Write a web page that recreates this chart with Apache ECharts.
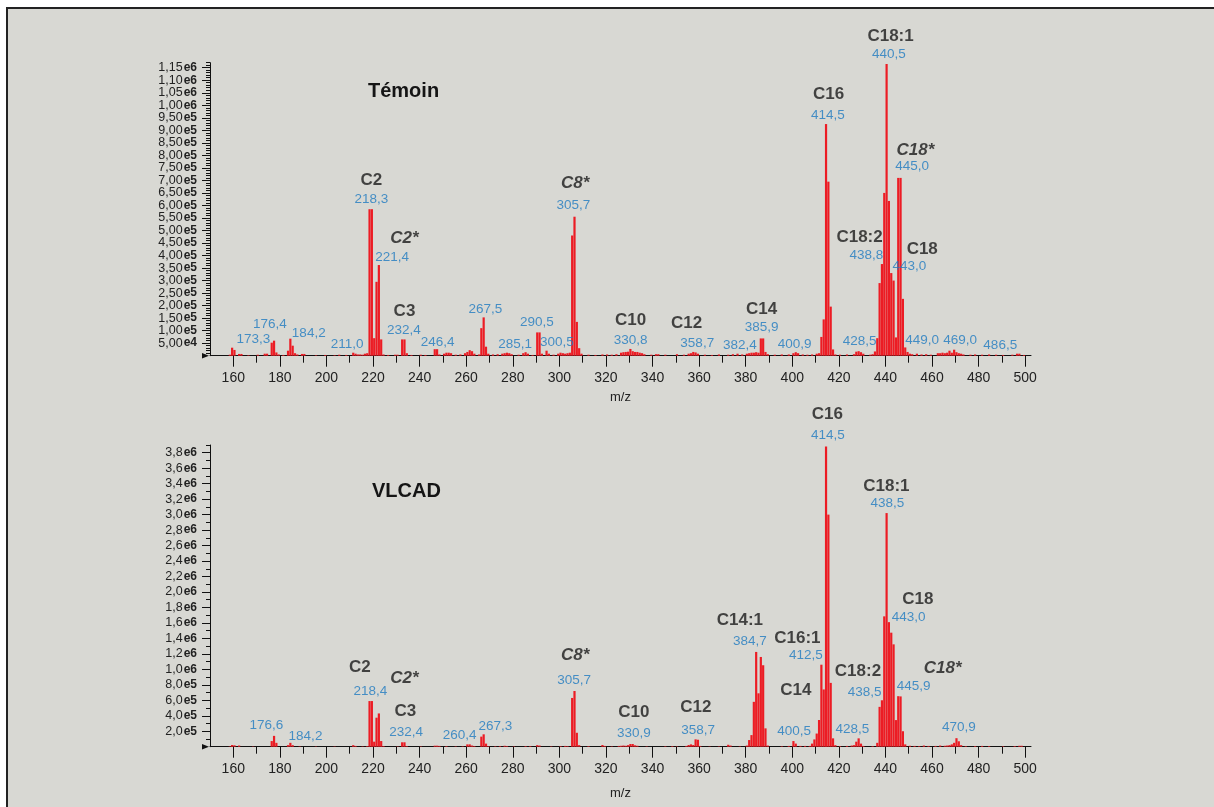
<!DOCTYPE html>
<html>
<head>
<meta charset="utf-8">
<title>Témoin / VLCAD</title>
<script src="https://cdn.jsdelivr.net/npm/echarts@6.0.0/dist/echarts.min.js"></script>
<style>
    html, body { margin: 0; padding: 0; background: #fff; overflow: hidden; }
    #frame { position: absolute; left: 6px; top: 7px; width: 1214px; height: 807px; background: #d8d8d3; border: 2px solid #222; }
    #spectra { position: absolute; left: 0; top: 0; width: 1214px; height: 807px; }
</style>
</head>
<body>
<div id="frame"></div>
<div id="spectra"></div>
<script>
// Témoin spectrum: [m/z, intensity]
var temoinPeaks = [
    [158.5, 4000], [159.5, 32000], [160.5, 23000], [162.5, 7000], [163.5, 7000], [166.5, 2000], [170.5, 4000],
    [173.5, 8000], [174.5, 8000], [176.5, 52000], [177.5, 60000], [178.5, 13000], [179.5, 5000], [181.5, 3000],
    [183.5, 20000], [184.5, 68000], [185.5, 40000], [186.5, 10000], [187.5, 5000], [189.5, 7000], [190.5, 7000],
    [195.5, 2000], [199.5, 3000], [203.5, 2000], [205.5, 4000], [208.5, 3000], [211.5, 12000], [212.5, 8000],
    [213.5, 5000], [214.5, 5000], [215.5, 4000], [216.5, 8000], [217.5, 10000], [218.5, 585000], [219.5, 585000],
    [220.5, 70000], [221.5, 295000], [222.5, 362000], [223.5, 65000], [224.5, 5000], [226.5, 3000], [229.5, 4000],
    [230.5, 4000], [232.5, 65000], [233.5, 65000], [234.5, 10000], [236.5, 3000], [240.5, 4000], [242.5, 3000],
    [246.5, 26000], [247.5, 26000], [248.5, 5000], [250.5, 8000], [251.5, 12000], [252.5, 12000], [253.5, 10000],
    [255.5, 4000], [257.5, 5000], [259.5, 10000], [260.5, 15000], [261.5, 22000], [262.5, 18000], [263.5, 8000],
    [265.5, 5000], [266.5, 110000], [267.5, 153000], [268.5, 36000], [269.5, 8000], [271.5, 5000], [273.5, 6000],
    [275.5, 8000], [276.5, 10000], [277.5, 12000], [278.5, 10000], [279.5, 6000], [282.5, 4000], [284.5, 10000],
    [285.5, 14000], [286.5, 8000], [288.5, 3000], [290.5, 93000], [291.5, 93000], [292.5, 8000], [294.5, 20000],
    [295.5, 8000], [297.5, 4000], [299.5, 8000], [300.5, 12000], [301.5, 10000], [302.5, 8000], [303.5, 10000],
    [304.5, 12000], [305.5, 480000], [306.5, 555000], [307.5, 135000], [308.5, 30000], [309.5, 8000], [312.5, 4000],
    [315.5, 3000], [318.5, 5000], [320.5, 5000], [322.5, 4000], [324.5, 6000], [326.5, 12000], [327.5, 14000],
    [328.5, 15000], [329.5, 16000], [330.5, 27000], [331.5, 18000], [332.5, 15000], [333.5, 15000], [334.5, 12000],
    [335.5, 10000], [336.5, 6000], [339.5, 4000], [341.5, 6000], [342.5, 6000], [345.5, 4000], [350.5, 6000],
    [353.5, 4000], [355.5, 8000], [356.5, 10000], [357.5, 15000], [358.5, 13000], [359.5, 8000], [362.5, 4000],
    [365.5, 3000], [368.5, 5000], [372.5, 4000], [374.5, 6000], [376.5, 8000], [378.5, 5000], [380.5, 8000],
    [381.5, 10000], [382.5, 12000], [383.5, 12000], [384.5, 14000], [385.5, 12000], [386.5, 69000], [387.5, 69000],
    [388.5, 15000], [389.5, 6000], [392.5, 4000], [395.5, 5000], [398.5, 5000], [400.5, 10000], [401.5, 14000],
    [402.5, 10000], [404.5, 5000], [406.5, 4000], [408.5, 5000], [410.5, 8000], [411.5, 10000], [412.5, 75000],
    [413.5, 145000], [414.5, 925000], [415.5, 695000], [416.5, 196000], [417.5, 25000], [418.5, 5000], [420.5, 4000],
    [423.5, 5000], [426.5, 6000], [427.5, 16000], [428.5, 18000], [429.5, 14000], [430.5, 8000], [433.5, 4000],
    [434.5, 6000], [435.5, 17000], [436.5, 70000], [437.5, 290000], [438.5, 366000], [439.5, 650000], [440.5, 1165000],
    [441.5, 618000], [442.5, 330000], [443.5, 300000], [444.5, 73000], [445.5, 710000], [446.5, 710000], [447.5, 227000],
    [448.5, 33000], [449.5, 15000], [450.5, 8000], [451.5, 6000], [453.5, 8000], [455.5, 5000], [457.5, 6000],
    [459.5, 4000], [462.5, 10000], [463.5, 10000], [464.5, 12000], [465.5, 10000], [466.5, 12000], [467.5, 20000],
    [468.5, 12000], [469.5, 24000], [470.5, 14000], [471.5, 10000], [472.5, 8000], [473.5, 5000], [476.5, 4000],
    [478.5, 5000], [481.5, 4000], [484.5, 5000], [487.5, 4000], [490.5, 3000], [494.5, 4000], [496.5, 8000],
    [497.5, 8000], [499.5, 3000]
];

// VLCAD spectrum: [m/z, intensity]
var vlcadPeaks = [
    [158.5, 5000], [159.5, 22000], [160.5, 18000], [162.5, 15000], [168.5, 4000], [176.5, 73000], [177.5, 140000],
    [178.5, 50000], [183.5, 20000], [184.5, 50000], [185.5, 20000], [188.5, 5000], [195.5, 4000], [203.5, 4000],
    [211.5, 20000], [212.5, 10000], [215.5, 5000], [217.5, 8000], [218.5, 590000], [219.5, 590000], [220.5, 65000],
    [221.5, 375000], [222.5, 430000], [223.5, 73000], [224.5, 8000], [230.5, 5000], [232.5, 57000], [233.5, 57000],
    [234.5, 8000], [240.5, 5000], [246.5, 13000], [247.5, 13000], [248.5, 10000], [251.5, 8000], [255.5, 5000],
    [258.5, 6000], [260.5, 30000], [261.5, 30000], [262.5, 15000], [263.5, 8000], [266.5, 130000], [267.5, 160000],
    [268.5, 40000], [269.5, 8000], [272.5, 6000], [274.5, 8000], [276.5, 12000], [277.5, 8000], [280.5, 5000],
    [285.5, 8000], [287.5, 8000], [290.5, 20000], [291.5, 15000], [296.5, 5000], [300.5, 8000], [302.5, 10000],
    [303.5, 8000], [305.5, 630000], [306.5, 720000], [307.5, 180000], [308.5, 20000], [312.5, 8000], [318.5, 22000],
    [319.5, 10000], [322.5, 5000], [325.5, 10000], [326.5, 12000], [327.5, 15000], [328.5, 12000], [329.5, 20000],
    [330.5, 35000], [331.5, 35000], [332.5, 18000], [333.5, 12000], [337.5, 5000], [345.5, 6000], [348.5, 8000],
    [350.5, 5000], [354.5, 10000], [355.5, 22000], [356.5, 30000], [357.5, 22000], [358.5, 95000], [359.5, 90000],
    [360.5, 10000], [364.5, 4000], [368.5, 5000], [372.5, 25000], [373.5, 15000], [377.5, 5000], [380.5, 15000],
    [381.5, 86000], [382.5, 150000], [383.5, 580000], [384.5, 1225000], [385.5, 690000], [386.5, 1160000],
    [387.5, 1053000], [388.5, 237000], [389.5, 15000], [395.5, 6000], [398.5, 10000], [400.5, 73000], [401.5, 40000],
    [403.5, 10000], [405.5, 10000], [407.5, 10000], [408.5, 40000], [409.5, 94000], [410.5, 170000], [411.5, 345000],
    [412.5, 1060000], [413.5, 740000], [414.5, 3880000], [415.5, 3000000], [416.5, 825000], [417.5, 108000],
    [418.5, 20000], [420.5, 8000], [423.5, 10000], [425.5, 15000], [426.5, 20000], [427.5, 65000], [428.5, 108000],
    [429.5, 40000], [430.5, 10000], [434.5, 8000], [436.5, 50000], [437.5, 515000], [438.5, 600000], [439.5, 1685000],
    [440.5, 3020000], [441.5, 1610000], [442.5, 1474000], [443.5, 1323000], [444.5, 344000], [445.5, 653000],
    [446.5, 650000], [447.5, 200000], [448.5, 30000], [450.5, 12000], [452.5, 10000], [454.5, 8000], [456.5, 15000],
    [458.5, 10000], [461.5, 10000], [463.5, 15000], [465.5, 12000], [466.5, 15000], [467.5, 20000], [468.5, 30000],
    [469.5, 50000], [470.5, 110000], [471.5, 70000], [472.5, 20000], [474.5, 8000], [478.5, 8000], [481.5, 10000],
    [484.5, 8000], [490.5, 6000], [495.5, 8000], [497.5, 12000], [498.5, 12000]
];

// peak names: [m/z, height, text, italic]
var temoinNames = [
    [219.3, 702000, 'C2'], [233.5, 469000, 'C2*', 1], [233.5, 176000, 'C3'], [306.8, 688000, 'C8*', 1],
    [330.6, 143000, 'C10'], [354.6, 129000, 'C12'], [386.8, 185000, 'C14'], [415.6, 1045000, 'C16'],
    [428.9, 473000, 'C18:2'], [442.2, 1277000, 'C18:1'], [452.9, 821000, 'C18*', 1], [455.8, 425000, 'C18']
];
var temoinMasses = [
    [168.6, 67000, '173,3'], [175.7, 127000, '176,4'], [192.4, 89000, '184,2'], [208.9, 47000, '211,0'],
    [219.3, 626000, '218,3'], [228.2, 393000, '221,4'], [233.2, 100000, '232,4'], [247.7, 55000, '246,4'],
    [268.2, 187000, '267,5'], [281.0, 46000, '285,1'], [290.3, 132000, '290,5'], [298.9, 52000, '300,5'],
    [306.0, 602000, '305,7'], [330.6, 63000, '330,8'], [359.2, 50000, '358,7'], [377.5, 43000, '382,4'],
    [386.8, 113000, '385,9'], [401.0, 47000, '400,9'], [415.3, 961000, '414,5'], [428.9, 56000, '428,5'],
    [431.8, 399000, '438,8'], [441.5, 1205000, '440,5'], [450.3, 358000, '443,0'], [451.5, 755000, '445,0'],
    [455.8, 60000, '449,0'], [472.1, 60000, '469,0'], [489.3, 43000, '486,5']
];
var vlcadNames = [
    [214.3, 1026000, 'C2'], [233.5, 884000, 'C2*', 1], [233.9, 452000, 'C3'], [306.8, 1185000, 'C8*', 1],
    [332.0, 440000, 'C10'], [358.6, 509000, 'C12'], [377.5, 1629000, 'C14:1'], [402.2, 1401000, 'C16:1'],
    [401.5, 733000, 'C14'], [415.1, 4300000, 'C16'], [440.4, 3370000, 'C18:1'], [453.9, 1909000, 'C18'],
    [428.2, 970000, 'C18:2'], [464.6, 1013000, 'C18*', 1]
];
var vlcadMasses = [
    [174.2, 271000, '176,6'], [191.0, 138000, '184,2'], [218.9, 711000, '218,4'], [234.2, 181000, '232,4'],
    [257.2, 151000, '260,4'], [272.5, 268000, '267,3'], [306.3, 862000, '305,7'], [332.0, 173000, '330,9'],
    [359.6, 216000, '358,7'], [381.8, 1357000, '384,7'], [400.8, 203000, '400,5'], [405.8, 1176000, '412,5'],
    [415.3, 4029000, '414,5'], [425.8, 229000, '428,5'], [431.1, 703000, '438,5'], [440.8, 3146000, '438,5'],
    [450.0, 1673000, '443,0'], [452.1, 785000, '445,9'], [471.5, 251000, '470,9']
];

// tick labels
var mzLabels = [160, 180, 200, 220, 240, 260, 280, 300, 320, 340, 360, 380, 400, 420, 440, 460, 480, 500];
var mzMinor = [170, 190, 210, 230, 250, 270, 290, 310, 330, 350, 370, 390, 410, 430, 450, 470, 490];
var temoinTicks = [50000, 100000, 150000, 200000, 250000, 300000, 350000, 400000, 450000, 500000, 550000, 600000,
    650000, 700000, 750000, 800000, 850000, 900000, 950000, 1000000, 1050000, 1100000, 1150000];
var vlcadTicks = [200000, 400000, 600000, 800000, 1000000, 1200000, 1400000, 1600000, 1800000, 2000000, 2200000,
    2400000, 2600000, 2800000, 3000000, 3200000, 3400000, 3600000, 3800000];

var FONT = '"Liberation Sans", Arial, sans-serif';

// minor ticks between labelled ones
function between(ticks, parts) {
    var out = [];
    var step = ticks[1] - ticks[0];
    for (var v = step / parts; v < ticks[ticks.length - 1] + step; v += step / parts) {
        if (Math.abs(v / step - Math.round(v / step)) > 1e-6) out.push(Math.round(v));
    }
    return out;
}

// "1,15e6" style; the two padding values (0 and max) stay blank
function sci(digits, max) {
    return function (v) {
        if (v <= 0 || v >= max) return ' ';
        var e = Math.floor(Math.log10(v) + 1e-9);
        var m = v / Math.pow(10, e);
        return '{m|' + m.toFixed(digits).replace('.', ',') + '}{e|e' + e + '}';
    };
}

function xMain(grid, gap) {
    return {
        type: 'value', gridIndex: grid, position: 'bottom', offset: 0, min: 150, max: 502.5,
        splitLine: { show: false },
        axisLine: { lineStyle: { color: '#111', width: 1 } },
        axisTick: { customValues: mzLabels, length: 11, lineStyle: { color: '#111' } },
        axisLabel: { customValues: mzLabels, margin: 15, color: '#222', fontSize: 14, fontFamily: FONT },
        name: 'm/z', nameLocation: 'middle', nameGap: gap,
        nameTextStyle: { color: '#222', fontSize: 13, fontFamily: FONT }
    };
}
function xSmall(grid) {
    return {
        type: 'value', gridIndex: grid, position: 'bottom', offset: 0, min: 150, max: 502.5,
        splitLine: { show: false }, axisLine: { show: false }, axisLabel: { show: false },
        axisTick: { customValues: mzMinor, length: 7, lineStyle: { color: '#111' } }
    };
}
function yMain(grid, max, ticks, digits) {
    return {
        type: 'value', gridIndex: grid, position: 'left', offset: 0, min: 0, max: max,
        splitLine: { show: false },
        axisLine: { show: true, lineStyle: { color: '#111', width: 1 } },
        axisTick: { show: true, customValues: ticks, length: 8, lineStyle: { color: '#111' } },
        axisLabel: {
            customValues: [0].concat(ticks, [max]), margin: 13, formatter: sci(digits, max),
            showMinLabel: false, showMaxLabel: false, hideOverlap: false,
            rich: {
                m: { color: '#222', fontSize: 12.5, lineHeight: 12, fontFamily: FONT },
                e: { color: '#222', fontSize: 12, lineHeight: 12, fontWeight: 'bold', fontFamily: FONT, padding: [0, 0, 0, 1] }
            }
        }
    };
}
function ySmall(grid, max, ticks) {
    return {
        type: 'value', gridIndex: grid, position: 'left', offset: 0, min: 0, max: max,
        splitLine: { show: false }, axisLine: { show: false }, axisLabel: { show: false },
        axisTick: { show: true, customValues: ticks, length: 4, lineStyle: { color: '#111' } }
    };
}

function bars(xi, yi, data) {
    return {
        type: 'bar', xAxisIndex: xi, yAxisIndex: yi, data: data, barWidth: 2.2, silent: true,
        itemStyle: { color: '#ec1c24' }
    };
}

function texts(xi, yi, list, bold) {
    return {
        type: 'scatter', xAxisIndex: xi, yAxisIndex: yi, symbolSize: 1, clip: false, silent: true, z: 10,
        itemStyle: { color: 'rgba(0,0,0,0)' },
        data: list.map(function (a) {
            return {
                value: [a[0], a[1]],
                label: {
                    show: true, position: 'inside', formatter: a[2],
                    fontStyle: a[3] ? 'italic' : 'normal',
                    color: bold ? '#1c1c1c' : '#1f7bc0',
                    fontSize: bold ? 17 : 13.5,
                    fontWeight: bold ? 'bold' : 'normal',
                    fontFamily: FONT
                }
            };
        })
    };
}

var myChart = echarts.init(document.getElementById('spectra'), null, { renderer: 'canvas' });

var option = {
    backgroundColor: 'transparent',
    animation: false,
    title: [
        { text: 'Témoin', left: 368, top: 81, padding: 0, textStyle: { fontSize: 20, fontWeight: 'bold', color: '#151515', fontFamily: FONT } },
        { text: 'VLCAD', left: 372, top: 481, padding: 0, textStyle: { fontSize: 20, fontWeight: 'bold', color: '#151515', fontFamily: FONT } }
    ],
    grid: [
        { left: 210, top: 62.7, width: 821, height: 293 },
        { left: 210, top: 445, width: 821, height: 301.7 }
    ],
    xAxis: [xMain(0, 35), xSmall(0), xMain(1, 40), xSmall(1)],
    yAxis: [
        yMain(0, 1170000, temoinTicks, 2), ySmall(0, 1170000, between(temoinTicks, 5)),
        yMain(1, 3900000, vlcadTicks, 1), ySmall(1, 3900000, between(vlcadTicks, 2))
    ],
    graphic: [
        { type: 'polygon', shape: { points: [[202, 353], [202, 358.5], [209, 355.7]] }, style: { fill: '#111' } },
        { type: 'polygon', shape: { points: [[202, 744], [202, 749.5], [209, 746.7]] }, style: { fill: '#111' } }
    ],
    series: [
        bars(0, 0, temoinPeaks),
        bars(2, 2, vlcadPeaks),
        texts(0, 0, temoinNames, true),
        texts(0, 0, temoinMasses, false),
        texts(2, 2, vlcadNames, true),
        texts(2, 2, vlcadMasses, false)
    ]
};

myChart.setOption(option);
</script>
</body>
</html>
